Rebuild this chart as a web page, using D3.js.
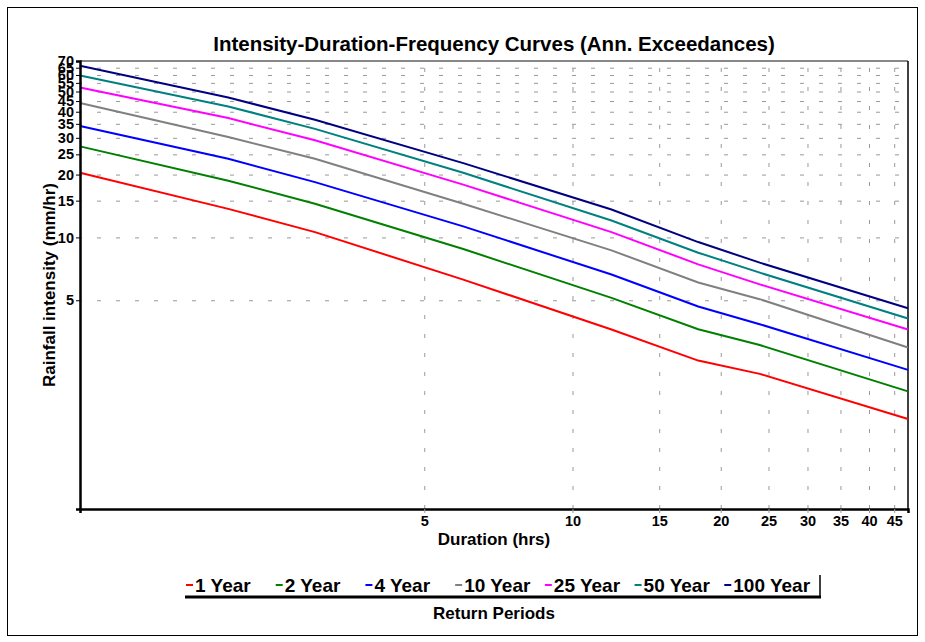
<!DOCTYPE html>
<html>
<head>
<meta charset="utf-8">
<script src="https://cdn.jsdelivr.net/npm/d3@7"></script>
<style>
  body { margin: 0; background: #fff; }
  text { font-family: "Liberation Sans", Arial, sans-serif; font-weight: bold; fill: #000; }
</style>
</head>
<body>
<div id="chart"></div>
<script>
// durations (hrs) where each curve is given
const durations = [1, 2, 3, 6, 12, 18, 24, 48];

const periods = ['1 Year', '2 Year', '4 Year', '10 Year', '25 Year', '50 Year', '100 Year'];
const colors = ['#ff0000', '#008000', '#0000ff', '#808080', '#ff00ff', '#008080', '#000080'];

// rainfall intensity (mm/hr) per return period
const year1 = [20.4, 13.7, 10.6, 6.28, 3.62, 2.57, 2.22, 1.35];
const year2 = [27.3, 18.7, 14.5, 8.8, 5.13, 3.63, 3.05, 1.83];
const year4 = [34.2, 23.8, 18.4, 11.3, 6.64, 4.67, 3.84, 2.32];
const year10 = [44.0, 30.3, 23.8, 14.5, 8.67, 6.08, 5.06, 2.97];
const year25 = [52.2, 37.3, 29.2, 17.9, 10.6, 7.43, 5.96, 3.62];
const year50 = [59.6, 42.4, 33.1, 20.4, 12.05, 8.45, 6.78, 4.09];
const year100 = [66.4, 46.8, 36.6, 22.7, 13.6, 9.5, 7.57, 4.58];
const seriesValues = [year1, year2, year4, year10, year25, year50, year100];

const xTicks = [5, 10, 15, 20, 25, 30, 35, 40, 45];
const yTicks = [5, 10, 15, 20, 25, 30, 35, 40, 45, 50, 55, 60, 65, 70];

const W = 925, H = 642;
const plotLeft = 80, plotRight = 908, plotTop = 61, plotBottom = 509;

const svg = d3.select('#chart').append('svg')
  .attr('width', W)
  .attr('height', H);

// outer frame
svg.append('rect')
  .attr('x', 7.5).attr('y', 7.5)
  .attr('width', 910).attr('height', 628)
  .attr('fill', 'none')
  .attr('stroke', '#000')
  .attr('stroke-width', 1);

let x = d3.scaleLog().domain([1, 48]).range([plotLeft, plotRight]);
let y = d3.scaleLog().domain([0.5, 70]).range([plotBottom, plotTop]);

// dashed grid
svg.append('g')
  .attr('class', 'grid')
  .attr('transform', 'translate(' + plotLeft + ',0)')
  .call(d3.axisLeft(y).tickValues(yTicks).tickSize(-(plotRight - plotLeft)).tickFormat(''))
  .call(g => g.select('.domain').remove())
  .selectAll('line')
  .attr('stroke', '#999')
  .attr('stroke-dasharray', '4,15')
  .attr('stroke-dashoffset', -17);

svg.append('g')
  .attr('class', 'grid')
  .attr('transform', 'translate(0,' + plotBottom + ')')
  .call(d3.axisBottom(x).tickValues(xTicks).tickSize(-(plotBottom - plotTop)).tickFormat(''))
  .call(g => g.select('.domain').remove())
  .selectAll('line')
  .attr('stroke', '#999')
  .attr('stroke-dasharray', '4,15');

// top and right borders
svg.append('line')
  .attr('x1', plotLeft).attr('x2', plotRight)
  .attr('y1', plotTop).attr('y2', plotTop)
  .attr('stroke', '#888').attr('stroke-width', 2);
svg.append('line')
  .attr('x1', plotRight).attr('x2', plotRight)
  .attr('y1', plotTop).attr('y2', plotBottom)
  .attr('stroke', '#000').attr('stroke-width', 1.5);

// curves
let line = d3.line()
  .x((d, i) => x(durations[i]))
  .y(d => y(d));

svg.selectAll('path.curve')
  .data(seriesValues)
  .enter()
  .append('path')
  .attr('class', 'curve')
  .attr('d', line)
  .attr('fill', 'none')
  .attr('stroke', (d, i) => colors[i])
  .attr('stroke-width', 2);

// axes
let yAxis = svg.append('g')
  .attr('id', 'y-axis')
  .attr('transform', 'translate(' + plotLeft + ',0)')
  .call(d3.axisLeft(y).tickValues(yTicks).tickFormat(d3.format('d')).tickSize(4).tickPadding(2));
yAxis.select('.domain').attr('stroke-width', 2.5);
yAxis.selectAll('text')
  .attr('font-size', 14.5)
  .attr('font-family', '"Liberation Sans", Arial, sans-serif');

let xAxis = svg.append('g')
  .attr('id', 'x-axis')
  .attr('transform', 'translate(0,' + plotBottom + ')')
  .call(d3.axisBottom(x).tickValues(xTicks).tickFormat(d3.format('d')).tickSize(4).tickPadding(3));
xAxis.select('.domain').attr('stroke-width', 2.5);
xAxis.selectAll('.tick line').attr('stroke', '#999');
xAxis.selectAll('text')
  .attr('font-size', 14.5)
  .attr('font-family', '"Liberation Sans", Arial, sans-serif');

// titles
svg.append('text')
  .attr('x', (plotLeft + plotRight) / 2)
  .attr('y', 51)
  .attr('text-anchor', 'middle')
  .attr('font-size', 20.5)
  .text('Intensity-Duration-Frequency Curves (Ann. Exceedances)');

svg.append('text')
  .attr('x', (plotLeft + plotRight) / 2)
  .attr('y', 545)
  .attr('text-anchor', 'middle')
  .attr('font-size', 17)
  .text('Duration (hrs)');

svg.append('text')
  .attr('transform', 'translate(55,' + ((plotTop + plotBottom) / 2) + ') rotate(-90)')
  .attr('text-anchor', 'middle')
  .attr('font-size', 17)
  .text('Rainfall intensity (mm/hr)');

// legend
let legendX = d3.scaleBand().domain(periods).range([185, 813]);
let legend = svg.append('g').attr('class', 'legend');
let item = legend.selectAll('g')
  .data(periods)
  .enter()
  .append('g')
  .attr('transform', d => 'translate(' + legendX(d) + ',585)');
item.append('line')
  .attr('x1', 1).attr('x2', 8)
  .attr('stroke', (d, i) => colors[i])
  .attr('stroke-width', 2);
item.append('text')
  .attr('x', 10)
  .attr('y', 7)
  .attr('font-size', 19)
  .text(d => d);

legend.append('line')
  .attr('x1', 185).attr('x2', 821)
  .attr('y1', 597).attr('y2', 597)
  .attr('stroke', '#000').attr('stroke-width', 3);
legend.append('line')
  .attr('x1', 820).attr('x2', 820)
  .attr('y1', 575).attr('y2', 597)
  .attr('stroke', '#000').attr('stroke-width', 1.5);

svg.append('text')
  .attr('x', (plotLeft + plotRight) / 2)
  .attr('y', 619)
  .attr('text-anchor', 'middle')
  .attr('font-size', 17)
  .text('Return Periods');
</script>
</body>
</html>
